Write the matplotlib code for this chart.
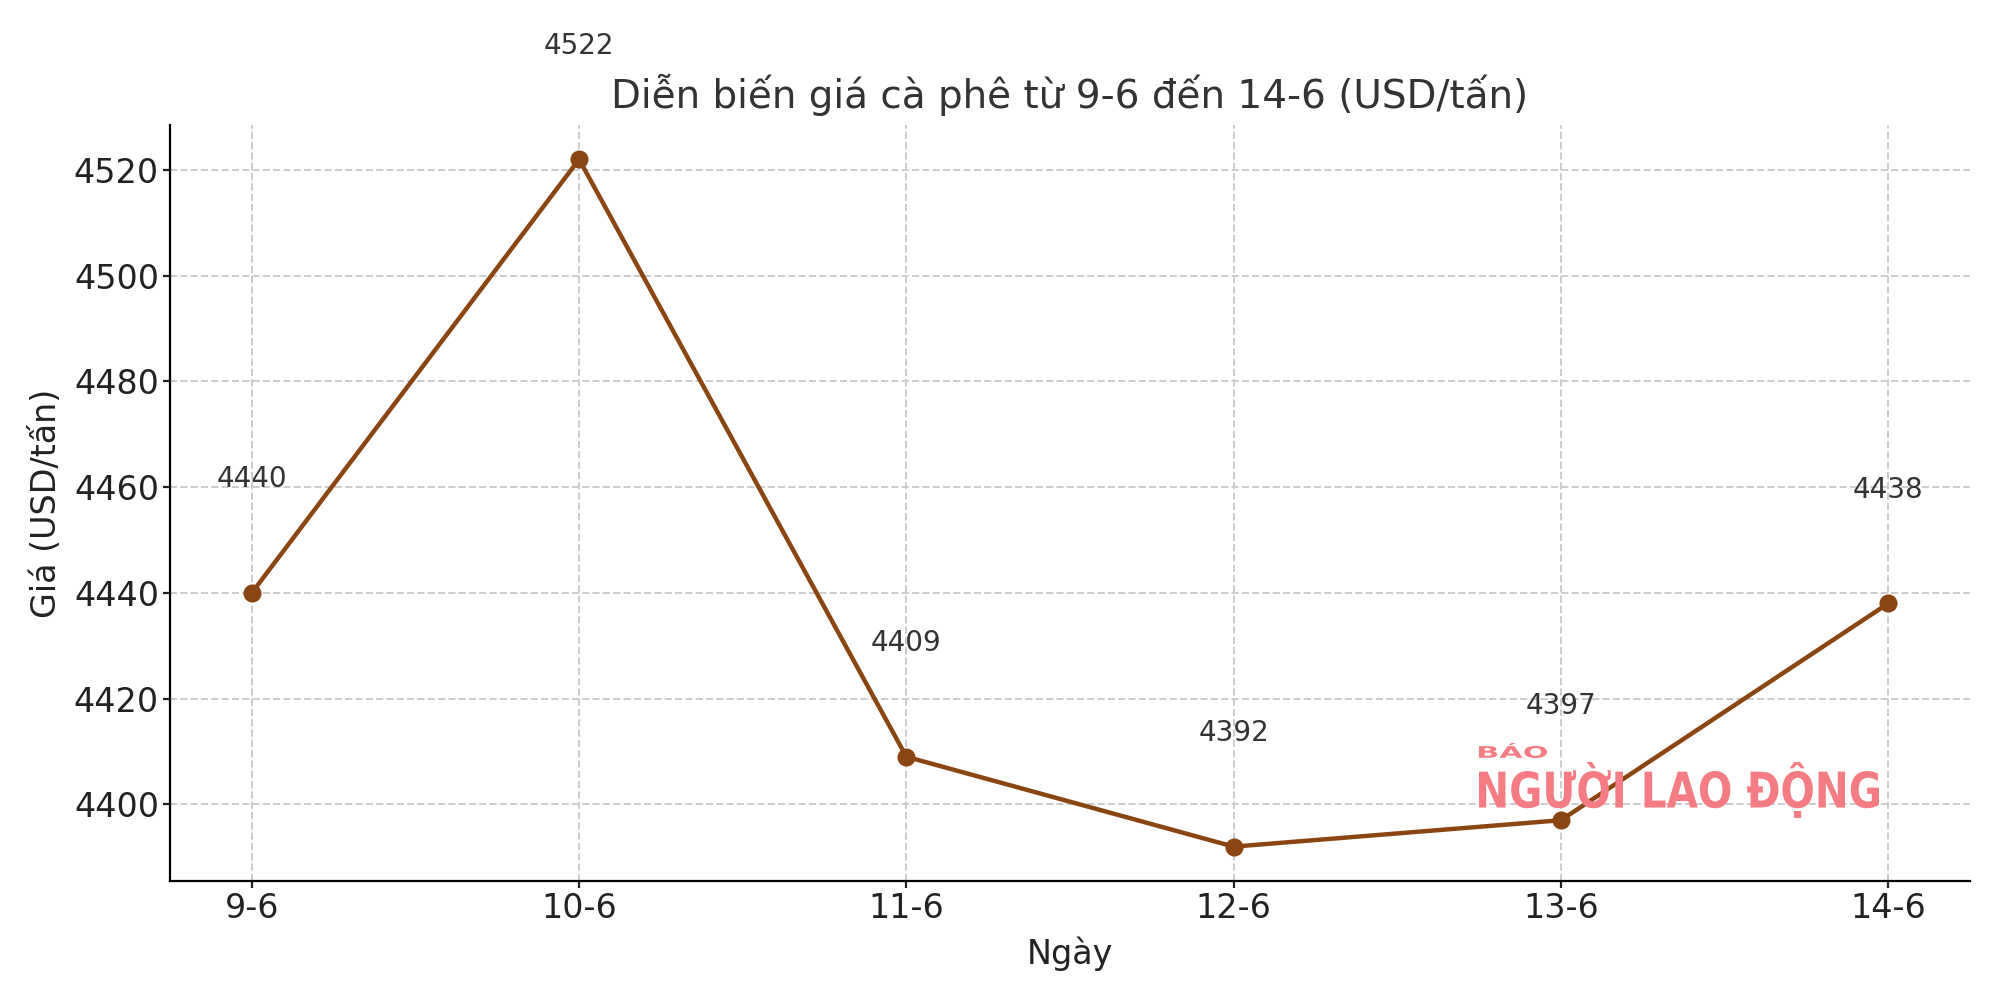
import matplotlib.pyplot as plt
from matplotlib.textpath import TextPath
from matplotlib.patches import PathPatch
from matplotlib.font_manager import FontProperties
from matplotlib.transforms import Affine2D, IdentityTransform

# ---------------------------
# DATA
# ---------------------------
ngay = ["9-6", "10-6", "11-6", "12-6", "13-6", "14-6"]
gia = [4440, 4522, 4409, 4392, 4397, 4438]

line_color = "#8B4513"
text_color = "#333333"

fig, ax = plt.subplots(figsize=(10, 5), dpi=200)

ax.plot(ngay, gia, marker="o", color=line_color, linewidth=1.6, markersize=5.5)

# nhan gia tri tren moi diem
for x, y in zip(ngay, gia):
    ax.text(x, y + 20, str(y), ha="center", fontsize=10, color=text_color)

ax.set_title("Diễn biến giá cà phê từ 9-6 đến 14-6 (USD/tấn)", fontsize=14, color=text_color)
ax.set_xlabel("Ngày", fontsize=12, color="#222222")
ax.set_ylabel("Giá (USD/tấn)", fontsize=12, color="#222222")
ax.tick_params(labelsize=12, colors="#222222", length=2.5, pad=1.5)

ax.grid(True, linestyle="--", color="#cccccc", linewidth=0.7)
ax.spines["top"].set_visible(False)
ax.spines["right"].set_visible(False)


# ---------------------------
# WATERMARK (nen chu hep, dat theo pixel)
# ---------------------------
def watermark(text, box, size=40):
    prop = FontProperties(family="DejaVu Sans", weight="bold")
    path = TextPath((0, 0), text, size=size, prop=prop)
    ext = path.get_extents()
    x0, y0, x1, y1 = box
    tr = (Affine2D()
          .translate(-ext.x0, -ext.y0)
          .scale((x1 - x0) / ext.width, (y1 - y0) / ext.height)
          .translate(x0, y0))
    patch = PathPatch(tr.transform_path(path), facecolor="#f47c82", edgecolor="none",
                      transform=IdentityTransform())
    fig.add_artist(patch)


watermark("BÁO", (1479, 242, 1547, 257))
watermark("NGƯỜI LAO ĐỘNG", (1479, 182, 1879, 238))

plt.subplots_adjust(left=0.085, right=0.985, top=0.875, bottom=0.119)
plt.savefig("out.png", dpi=200)
